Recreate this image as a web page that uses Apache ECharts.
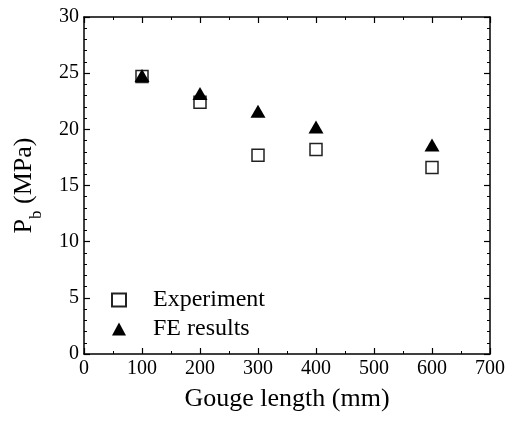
<!DOCTYPE html>
<html>
<head>
<meta charset="utf-8">
<script src="https://cdn.jsdelivr.net/npm/echarts@6/dist/echarts.min.js"></script>
<style>
html,body{margin:0;padding:0;background:#fff;}
#chart{width:515px;height:423px;}
</style>
</head>
<body>
<div id="chart"></div>
<script>
var gougeLength = [100, 200, 300, 400, 600];
var experiment = [24.7, 22.4, 17.7, 18.2, 16.6];
var feResults = [24.8, 23.2, 21.6, 20.2, 18.6];
var seriesNames = ['Experiment', 'FE results'];

function pairs(xs, ys){
    var out = [];
    for(var i=0;i<xs.length;i++){
        out.push([xs[i], ys[i]]);
    }
    return out;
}

var font = '"Liberation Serif", "Times New Roman", serif';
function axisLine(){ return {show:true, onZero:false, lineStyle:{color:'#000', width:1.5}}; }
function tick(){ return {show:true, inside:true, length:6, lineStyle:{color:'#000', width:1.2}}; }
function minor(n){ return {show:true, splitNumber:n, length:3, lineStyle:{color:'#000', width:1}}; }

var chart = echarts.init(document.getElementById('chart'));
var option = {
    backgroundColor:'#fff',
    animation:false,
    grid:{left:84, right:25, top:17, bottom:69},
    legend:{
        orient:'vertical',
        left:106,
        top:283,
        itemWidth:14,
        itemHeight:13,
        itemGap:5,
        data:seriesNames,
        textStyle:{fontFamily:font, fontSize:24, color:'#000', padding:[0,0,0,22]}
    },
    xAxis:[{
        type:'value', min:0, max:700, interval:100,
        name:'Gouge length (mm)', nameLocation:'middle', nameGap:32,
        nameTextStyle:{fontFamily:font, fontSize:26, color:'#000'},
        axisLine:axisLine(), axisTick:tick(), minorTick:minor(2),
        splitLine:{show:false},
        axisLabel:{fontFamily:font, fontSize:20, color:'#000', margin:5}
    },{
        type:'value', min:0, max:700, interval:100, position:'top',
        axisLine:axisLine(), axisTick:tick(), minorTick:minor(2),
        splitLine:{show:false}, axisLabel:{show:false}
    }],
    yAxis:[{
        type:'value', min:0, max:30, interval:5,
        name:'P{sub|b} (MPa)', nameLocation:'middle', nameGap:47,
        nameTextStyle:{fontFamily:font, fontSize:26, color:'#000',
            rich:{sub:{fontFamily:font, fontSize:17, color:'#000', verticalAlign:'bottom', padding:[0,0,-8,0]}}},
        axisLine:axisLine(), axisTick:tick(), minorTick:minor(5),
        splitLine:{show:false},
        axisLabel:{fontFamily:font, fontSize:20, color:'#000', margin:5}
    },{
        type:'value', min:0, max:30, interval:5, position:'right',
        axisLine:axisLine(), axisTick:tick(), minorTick:minor(5),
        splitLine:{show:false}, axisLabel:{show:false}
    }],
    series:[{
        name:seriesNames[0],
        type:'scatter',
        symbol:'rect',
        symbolSize:12,
        z:2,
        itemStyle:{color:'#fff', borderColor:'#222', borderWidth:1.5, opacity:1},
        data:pairs(gougeLength, experiment)
    },{
        name:seriesNames[1],
        type:'scatter',
        symbol:'triangle',
        symbolSize:[15,13],
        z:3,
        itemStyle:{color:'#000', opacity:1},
        data:pairs(gougeLength, feResults)
    }]
};
chart.setOption(option);
</script>
</body>
</html>
